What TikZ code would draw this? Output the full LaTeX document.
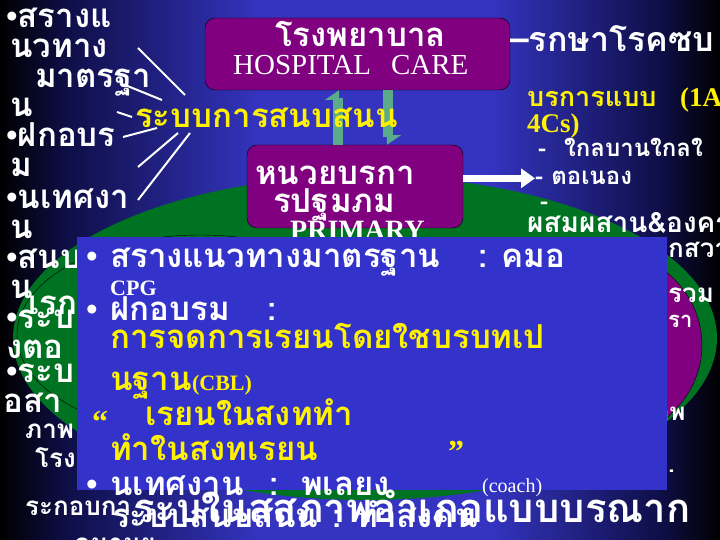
\documentclass[tikz,border=0pt]{standalone}
\usepackage{fontspec}
\setmainfont{Liberation Serif}
\newfontfamily\thai[Script=Thai]{Loma}
\usetikzlibrary{arrows.meta}
\definecolor{slideblue}{RGB}{52,52,192}
\definecolor{deepnavy}{RGB}{14,14,70}
\definecolor{boxblue}{RGB}{51,51,204}
\definecolor{leafgreen}{RGB}{0,115,35}
\definecolor{careplum}{RGB}{128,0,128}
\definecolor{linkteal}{RGB}{90,170,140}
\pgfdeclarehorizontalshading{slidebg}{100bp}{color(0bp)=(black); color(25bp)=(black); color(29.5bp)=(deepnavy); color(43bp)=(slideblue); color(59bp)=(slideblue); color(71bp)=(deepnavy); color(75bp)=(black); color(100bp)=(black)}
\newcommand{\blt}{{\rmfamily •}}
\newcommand{\lat}[2]{{\rmfamily\fontsize{#1}{#1}\selectfont #2}}

\begin{document}
\begin{tikzpicture}[x=1pt, y=-1pt,
    txt/.style={anchor=base west, inner sep=0pt, text=white, font=\thai\bfseries\fontsize{#1}{#1}\selectfont},
    txt/.default=33,
    careboxstyle/.style={draw=black, fill=careplum, rounded corners=10pt, minimum width=#1},
    wline/.style={white, line width=2pt},
    updown/.style={linkteal, line width=10pt, -{Triangle[left, length=9pt, width=26pt]}},
    fatarrow/.style={white, line width=7pt, -{Triangle[length=14pt, width=19pt]}}
]
    \useasboundingbox (0,0) rectangle (720,540);
    \shade[shading=slidebg] (0,0) rectangle (720,540);

    % green field with the inner rings
    \fill[leafgreen] (365,338) ellipse [x radius=352, y radius=162];
    \draw[black, thin] (200,335) ellipse [x radius=183, y radius=100];
    \filldraw[fill=careplum, draw=black, thin] (590,345) ellipse [x radius=112, y radius=100];

    % the two care levels
    \node[careboxstyle=305pt, minimum height=72pt] (hosp) at (357.5,54) {};
    \node[careboxstyle=216pt, minimum height=83pt] (prim) at (355,186.5) {};
    \node[txt] (hospth) at (275,47) {โรงพยาบาล};
    \node[anchor=base west, inner sep=0pt, text=white, font=\rmfamily\fontsize{29}{29}\selectfont] (hospen) at (233,75) {HOSPITAL\hspace{20pt}CARE};
    \node[txt] (primth) at (255,185) {หนวยบรกา};
    \node[txt] (primth2) at (273,212) {รปฐมภม};
    \node[anchor=base west, inner sep=0pt, text=white, font=\rmfamily\bfseries\fontsize{28}{28}\selectfont] (primen) at (290,240) {PRIMARY};

    \coordinate (upx) at (338,0);
    \coordinate (downx) at (388,0);
    \draw[updown] (prim.north -| upx) -- (hosp.south -| upx);
    \draw[updown] (hosp.south -| downx) -- (prim.north -| downx);

    \node[txt, text=yellow] (support) at (135,128) {ระบบการสนบสนน};

    % left column
    \node[txt] (l1) at (6,28) {\blt สรางแ};
    \node[txt] (l2) at (10,58) {นวทาง};
    \node[txt] (l3) at (35,88) {มาตรฐา};
    \node[txt] (l4) at (10,117) {น};
    \node[txt] (l5) at (6,147) {\blt ฝกอบร};
    \node[txt] (l6) at (10,177) {ม};
    \node[txt] (l7) at (6,208) {\blt นเทศงา};
    \node[txt] (l8) at (10,238) {น};
    \node[txt] (l9) at (6,268) {\blt สนบสนน};
    \node[txt] (l10) at (10,298) {น};
    \node[txt] (l11) at (28,314) {เรก};
    \node[txt] (l12) at (6,328) {\blt ระบ};
    \node[txt] (l13) at (6,358) {งตอ};
    \node[txt] (l14) at (6,382) {\blt ระบ};
    \node[txt] (l15) at (3,412) {อสา};
    \node[txt=26] (l16) at (25,438) {ภาพ};
    \node[txt=26] (l17) at (35,467) {โรง};
    \node[txt=26] (l18) at (25,515) {ระกอบกา};
    \node[txt=26] (l19) at (75,552) {อนามย};

    % strokes from the list to the support label
    \coordinate (a1) at (138,48);  \coordinate (b1) at (185,95);
    \coordinate (a2) at (125,85);  \coordinate (b2) at (162,100);
    \coordinate (a3) at (117,112); \coordinate (b3) at (132,117);
    \coordinate (a4) at (123,137); \coordinate (b4) at (157,128);
    \coordinate (a5) at (138,167); \coordinate (b5) at (178,133);
    \coordinate (a6) at (138,200); \coordinate (b6) at (190,133);
    \foreach \i in {1,...,6}
        \draw[wline] (a\i) -- (b\i);

    % right column
    \node[txt=34] (r1) at (510,52) {–รกษาโรคซบ};
    \node[txt=27, text=yellow] (r2) at (527,107) {บรการแบบ};
    \node[anchor=base west, inner sep=0pt, text=yellow, font=\rmfamily\bfseries\fontsize{27}{27}\selectfont] (r2b) at (680,107) {(1A};
    \node[anchor=base west, inner sep=0pt, text=yellow, font=\rmfamily\bfseries\fontsize{27}{27}\selectfont] (r3) at (527,133) {4Cs)};
    \node[txt=24] (r4) at (538,157) {-\hspace{18pt}ใกลบานใกลใ};
    \node[txt=24] (r5) at (535,185) {- ตอเนอง};
    \node[txt=24] (r6) at (540,210) {-};
    \node[txt=28] (r7) at (527,233) {ผสมผสาน\&องคร};
    \node[txt=26] (r8) at (668,257) {กสวา};
    \node[txt=26] (r9) at (668,302) {รวม};
    \node[txt=22] (r10) at (668,327) {รา};
    \node[txt=24] (r11) at (656,420) {าพ};
    \node[txt=24] (r12) at (668,472) {.};

    \draw[fatarrow] (prim.east |- r5.west) -- (r5.west);

    % overlay panel
    \fill[boxblue] (77,237) rectangle (667,490);
    \node[txt] (p1b) at (86,267) {\blt};
    \node[txt] (p1) at (110,267) {สรางแนวทางมาตรฐาน\hspace{38pt}:\hspace{14pt}คมอ};
    \node[anchor=base west, inner sep=0pt, text=white, font=\rmfamily\bfseries\fontsize{22}{22}\selectfont] (p2) at (110,295) {CPG};
    \node[txt] (p3b) at (86,320) {\blt};
    \node[txt] (p3) at (110,320) {ฝกอบรม\hspace{38pt}:};
    \node[txt, text=yellow] (p4) at (110,348) {การจดการเรยนโดยใชบรบทเป};
    \node[txt, text=yellow] (p5) at (110,390) {นฐาน\lat{22}{(CBL)}};
    \node[anchor=base west, inner sep=0pt, text=yellow, font=\rmfamily\bfseries\fontsize{32}{32}\selectfont] (p6q) at (92,432) {“};
    \node[txt, text=yellow] (p6) at (145,425) {เรยนในสงททำ};
    \node[txt, text=yellow] (p7) at (110,460) {ทำในสงทเรยน};
    \node[anchor=base west, inner sep=0pt, text=yellow, font=\rmfamily\bfseries\fontsize{32}{32}\selectfont] (p7q) at (448,462) {”};
    \node[txt] (p8b) at (86,495) {\blt};
    \node[txt] (p8) at (110,495) {นเทศงาน\hspace{26pt}:\hspace{22pt}พเลยง};
    \node[anchor=base west, inner sep=0pt, text=white, font=\rmfamily\fontsize{20}{20}\selectfont] (p8c) at (482,492) {(coach)};

    % overlapping footer lines
    \node[txt] (f1) at (112,527) {ระบบสนบสนน\hspace{14pt}: ทำสงคน};
    \node[txt=40] (f2) at (133,522) {ระบในสสภาพอำเภอแบบบรณาก};
\end{tikzpicture}
\end{document}
